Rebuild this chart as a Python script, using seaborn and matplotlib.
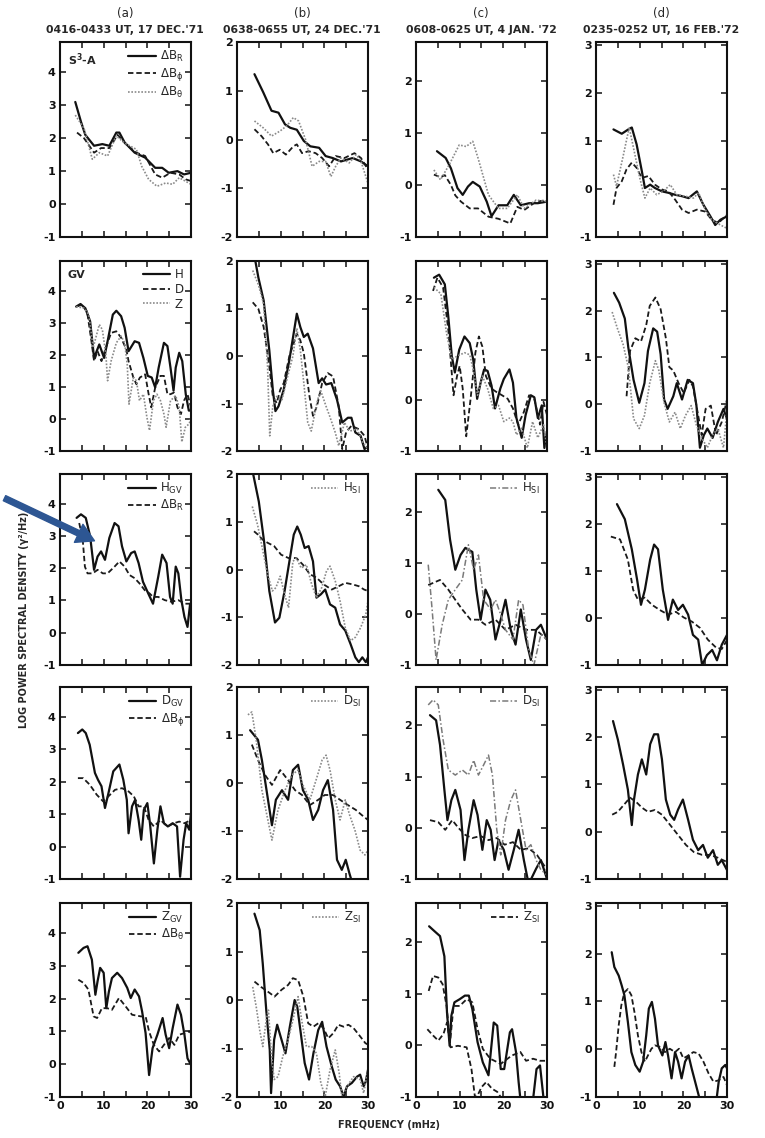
import matplotlib
matplotlib.use("Agg")
import pandas as pd
import matplotlib.pyplot as plt
from matplotlib.lines import Line2D
from matplotlib.patches import FancyArrowPatch
import seaborn as sns

# ---- data: (frequency mHz, log power) ----
# row 1 : S3-A satellite components
A1_R = [(3.5,3.1),(4.8,2.5),(5.8,2.1),(7.8,1.77),(9.7,1.82),(11.3,1.77),(12.9,2.17),(13.6,2.17),(14.8,1.87),(17.1,1.56),(19.5,1.41),(21.8,1.1),(23.4,1.1),(24.9,0.95),(26.9,1.0),(28.4,0.9),(30,0.95)]
A1_P = [(3.9,2.17),(5.5,2.0),(7.8,1.56),(9.4,1.7),(11.3,1.7),(13.2,2.1),(15.2,1.8),(17.5,1.56),(19.5,1.46),(21.8,0.9),(23.4,0.8),(25.3,0.95),(27.3,0.9),(28.8,0.75),(30,0.7)]
A1_T = [(3.5,2.7),(5.5,2.3),(7.4,1.36),(9.0,1.56),(10.9,1.46),(12.9,2.07),(14.8,1.85),(17.5,1.66),(18.7,1.15),(20.3,0.75),(22.2,0.54),(24.2,0.64),(25.8,0.6),(27.3,0.8),(30,0.6)]
B1_R = [(4.0,1.34),(6.0,0.97),(7.9,0.59),(9.5,0.55),(11.0,0.31),(12.2,0.24),(13.7,0.2),(15.3,-0.03),(16.8,-0.14),(18.8,-0.17),(20.3,-0.34),(21.9,-0.38),(23.8,-0.45),(26.5,-0.38),(28.4,-0.45),(30,-0.55)]
B1_P = [(4.0,0.21),(5.6,0.07),(7.1,-0.1),(8.3,-0.28),(9.8,-0.21),(11.2,-0.31),(12.9,-0.14),(13.7,-0.1),(14.9,-0.28),(16.4,-0.24),(18.0,-0.28),(19.5,-0.38),(21.1,-0.55),(22.6,-0.34),(24.6,-0.38),(26.9,-0.28),(28.4,-0.38),(30,-0.62)]
B1_T = [(4.0,0.38),(6.0,0.24),(7.9,0.07),(9.8,0.17),(11.4,0.28),(12.9,0.45),(14.1,0.38),(15.7,0.0),(17.2,-0.55),(18.8,-0.45),(20.3,-0.45),(21.5,-0.76),(22.6,-0.55),(23.8,-0.38),(25.7,-0.48),(27.3,-0.31),(28.4,-0.45),(30,-0.9)]
C1_R = [(4.8,0.65),(6.8,0.52),(8.0,0.32),(9.5,-0.06),(10.7,-0.19),(11.9,-0.03),(13.0,0.06),(14.6,-0.03),(16.2,-0.32),(17.3,-0.6),(18.9,-0.39),(20.9,-0.39),(22.4,-0.19),(24.0,-0.39),(25.9,-0.35),(27.9,-0.35),(30,-0.32)]
C1_P = [(4.1,0.2),(5.6,0.15),(6.6,0.19),(8.0,0.0),(9.0,-0.2),(10.3,-0.32),(12.3,-0.45),(14.2,-0.45),(16.6,-0.61),(18.9,-0.65),(21.6,-0.74),(23.2,-0.42),(24.8,-0.48),(27.5,-0.32),(30,-0.29)]
C1_T = [(4.1,0.29),(5.6,0.1),(7.6,0.39),(9.9,0.77),(11.5,0.74),(13.0,0.84),(14.2,0.52),(16.6,-0.19),(18.9,-0.45),(20.9,-0.45),(23.2,-0.19),(24.8,-0.45),(27.5,-0.29),(30,-0.32)]
D1_R = [(4.0,1.24),(5.9,1.15),(7.4,1.24),(8.2,1.28),(9.3,0.93),(10.5,0.37),(11.2,0.02),(12.4,0.09),(13.5,0.02),(15.1,-0.05),(16.6,-0.08),(18.1,-0.12),(19.7,-0.15),(21.2,-0.19),(23.1,-0.05),(24.6,-0.33),(26.2,-0.57),(27.3,-0.75),(28.5,-0.64),(30,-0.57)]
D1_P = [(4.0,-0.33),(4.7,0.02),(5.9,0.16),(7.0,0.41),(8.2,0.55),(9.3,0.44),(10.5,0.23),(12.0,0.27),(13.5,0.09),(15.1,-0.01),(16.6,-0.05),(18.1,-0.22),(19.7,-0.43),(21.2,-0.5),(23.1,-0.43),(25.0,-0.47),(26.5,-0.64),(28.0,-0.71),(30,-0.54)]
D1_T = [(4.0,0.3),(4.7,0.06),(6.3,0.72),(7.6,1.28),(8.6,0.85),(10.1,0.2),(11.2,-0.19),(12.4,0.02),(13.9,-0.12),(15.4,-0.05),(17.0,0.09),(18.5,-0.12),(20.4,-0.15),(22.3,-0.19),(23.5,-0.08),(25.0,-0.43),(26.5,-0.64),(28.5,-0.75),(30,-0.82)]

# row 2 : ground station H, D, Z
A2_H = [(3.7,3.5),(4.7,3.58),(5.8,3.45),(6.9,3.04),(7.8,1.9),(9.0,2.32),(10.1,1.9),(10.9,2.42),(12.1,3.25),(12.9,3.37),(14.0,3.2),(14.8,2.84),(15.7,2.11),(17.1,2.42),(18.1,2.37),(19.1,1.9),(20.1,1.34),(21.0,1.29),(21.8,0.98),(22.6,1.6),(23.8,2.37),(24.6,2.27),(25.3,1.6),(26.0,0.88),(26.5,1.6),(27.3,2.06),(28.0,1.8),(28.8,0.77),(29.5,0.26),(30,0.26)]
A2_D = [(3.7,3.5),(4.9,3.55),(6.2,3.35),(7.2,2.42),(7.8,1.8),(8.6,2.11),(9.5,1.8),(10.5,2.22),(11.7,2.68),(12.9,2.73),(14.0,2.53),(15.2,2.16),(15.7,1.8),(16.8,1.29),(17.5,1.08),(18.3,1.29),(19.5,1.39),(20.3,0.77),(20.9,0.36),(21.8,0.98),(23.0,1.34),(23.8,1.34),(24.6,0.77),(25.3,0.77),(26.1,0.82),(26.9,0.36),(27.7,0.15),(28.4,0.57),(29.2,0.77),(30,0.36)]
A2_Z = [(3.7,3.5),(5.5,3.45),(6.6,3.25),(7.6,2.22),(8.2,2.53),(9.0,2.94),(9.7,2.78),(10.5,2.01),(10.9,1.19),(11.7,1.8),(12.9,2.37),(14.0,2.58),(14.8,2.37),(15.4,1.7),(15.8,0.46),(16.8,1.29),(17.5,1.19),(18.2,0.57),(19.1,0.77),(19.9,0.05),(20.5,-0.36),(21.4,0.57),(22.2,0.77),(23.0,0.57),(23.8,0.15),(24.3,-0.26),(25.3,0.57),(26.5,0.72),(27.3,0.36),(27.9,-0.72),(28.7,-0.26),(29.6,-0.15),(30,0.05)]
B2_H = [(3.6,2.3),(4.9,1.65),(6.1,1.17),(7.4,0.12),(8.2,-0.71),(8.8,-1.16),(9.5,-1.06),(10.7,-0.71),(12.0,-0.08),(13.7,0.89),(14.5,0.61),(15.3,0.4),(16.2,0.47),(17.4,0.16),(18.7,-0.57),(19.5,-0.47),(20.4,-0.6),(21.6,-0.57),(22.9,-0.92),(24.1,-1.4),(25.4,-1.3),(26.2,-1.3),(27.1,-1.61),(28.3,-1.68),(29.2,-1.96),(30,-1.9)]
B2_D = [(3.6,1.13),(4.9,0.99),(6.1,0.61),(7.4,-0.22),(8.2,-0.85),(9.1,-0.99),(9.9,-0.71),(10.7,-0.57),(12.0,0.0),(13.7,0.47),(14.5,0.33),(15.3,0.06),(16.6,-0.85),(17.4,-1.26),(18.3,-1.06),(19.5,-0.57),(20.8,-0.36),(22.0,-0.43),(23.3,-1.06),(24.1,-1.96),(25.0,-1.6),(26.2,-1.47),(27.9,-1.54),(29.2,-1.68),(30,-1.96)]
B2_Z = [(3.6,1.8),(4.9,1.5),(6.1,1.1),(7.0,-0.22),(7.5,-1.68),(8.2,-1.06),(9.1,-0.85),(10.3,-0.92),(11.6,-0.43),(12.8,0.0),(13.7,0.58),(14.5,0.13),(15.3,-0.57),(16.2,-1.4),(17.0,-1.58),(18.3,-0.99),(19.1,-0.71),(20.4,-1.06),(21.2,-1.26),(22.5,-1.61),(23.3,-1.89),(24.6,-1.4),(25.8,-1.58),(27.5,-1.54),(28.8,-1.82),(30,-1.96)]
C2_H = [(4.1,2.42),(5.3,2.48),(6.6,2.29),(7.4,1.65),(8.2,0.87),(8.9,0.55),(9.9,1.0),(11.1,1.26),(12.3,1.13),(13.1,0.81),(14.0,0.03),(14.8,0.35),(15.6,0.61),(16.4,0.58),(17.3,0.29),(18.1,-0.16),(19.3,0.23),(20.1,0.42),(21.4,0.61),(22.2,0.35),(23.0,-0.35),(24.2,-0.74),(25.1,-0.29),(26.3,0.1),(27.1,0.06),(27.9,-0.35),(28.8,-0.1),(29.4,-0.94),(30,-0.61)]
C2_D = [(3.9,2.16),(4.9,2.42),(6.2,2.23),(7.4,1.39),(8.6,0.1),(9.4,0.48),(10.0,0.68),(10.7,0.23),(11.5,-0.71),(12.5,0.03),(13.6,0.94),(14.4,1.26),(15.2,1.06),(16.0,0.48),(17.3,0.23),(18.5,0.16),(19.7,0.1),(21.0,0.03),(22.2,-0.16),(23.4,-0.48),(24.7,-0.23),(25.9,0.1),(27.1,0.03),(28.4,-0.48),(29.2,-0.03),(30,-0.29)]
C2_Z = [(4.1,2.23),(5.7,2.1),(7.0,1.32),(8.2,0.81),(9.4,0.87),(11.1,0.94),(12.3,0.9),(13.1,0.61),(14.1,0.1),(15.2,0.48),(16.4,0.23),(17.7,-0.16),(18.9,-0.1),(20.1,-0.42),(21.4,-0.35),(22.2,-0.42),(23.0,-0.68),(24.2,-0.55),(25.5,-0.94),(26.7,-0.42),(27.9,-0.74),(29.2,-0.48),(30,-0.94)]
D2_H = [(4.1,2.38),(5.3,2.17),(6.6,1.83),(7.4,1.21),(8.6,0.52),(9.9,0.03),(11.1,0.45),(11.9,1.14),(13.1,1.62),(14.0,1.55),(14.8,1.07),(15.6,0.1),(16.4,-0.1),(17.7,0.17),(18.5,0.45),(19.7,0.1),(21.0,0.52),(22.2,0.45),(23.0,-0.03),(23.8,-0.93),(24.7,-0.66),(25.5,-0.52),(26.7,-0.72),(27.9,-0.38),(29.2,-0.1),(30,-0.31)]
D2_D = [(7.0,0.17),(7.8,1.14),(9.0,1.41),(10.3,1.34),(11.5,1.69),(12.3,2.1),(13.6,2.28),(14.8,2.03),(16.0,1.41),(16.8,0.79),(17.7,0.72),(18.9,0.45),(20.1,0.24),(21.4,0.52),(22.2,0.38),(23.0,-0.03),(24.2,-0.66),(25.1,-0.1),(26.3,-0.03),(27.5,-0.66),(28.8,-0.38),(30,0.1)]
D2_Z = [(3.7,1.97),(4.9,1.62),(6.2,1.28),(7.4,0.79),(8.6,-0.31),(9.9,-0.52),(11.1,-0.24),(12.3,0.45),(13.6,0.93),(14.4,0.72),(15.6,0.03),(16.8,-0.38),(18.1,-0.17),(19.3,-0.52),(20.5,-0.24),(21.8,-0.03),(23.0,-0.45),(24.2,-0.72),(25.5,-0.93),(26.7,-0.66),(27.9,-0.52),(29.2,-0.93),(30,-0.1)]

# row 3 : H
A3_H = [(3.8,3.56),(4.8,3.67),(5.9,3.56),(6.9,2.99),(7.8,1.95),(8.6,2.36),(9.4,2.52),(10.3,2.26),(11.3,2.94),(12.5,3.4),(13.4,3.3),(14.2,2.68),(15.2,2.21),(16.3,2.47),(17.1,2.52),(18.0,2.16),(19.0,1.58),(20.2,1.22),(21.3,0.9),(22.5,1.74),(23.4,2.42),(24.4,2.16),(25.2,1.11),(25.8,0.9),(26.5,2.05),(27.1,1.84),(27.8,1.01),(28.5,0.49),(29.2,0.18),(29.8,0.9)]
A3_R = [(4.4,3.4),(5.2,2.89),(5.7,2.05),(6.3,1.84),(7.5,1.84),(8.6,1.95),(9.8,1.84),(10.9,1.84),(12.5,2.05),(13.6,2.21),(14.8,2.05),(15.9,1.79),(17.1,1.69),(18.2,1.53),(19.4,1.32),(20.5,1.22),(21.3,1.11),(22.5,1.11),(24.0,1.01),(25.5,0.96),(27.1,1.01),(28.6,0.9),(30,0.9)]
B3_H = [(3.7,2.0),(5.0,1.42),(6.2,0.59),(7.4,-0.45),(8.7,-1.11),(9.7,-1.01),(10.9,-0.45),(12.0,0.17),(13.0,0.73),(13.8,0.9),(14.6,0.73),(15.5,0.45),(16.4,0.49),(17.4,0.17),(18.2,-0.59),(19.2,-0.52),(20.2,-0.42),(21.3,-0.73),(22.5,-0.8),(23.6,-1.15),(24.8,-1.28),(26.0,-1.56),(27.1,-1.84),(27.9,-1.94),(28.7,-1.84),(29.5,-1.94),(30,-1.84)]
B3_SI = [(3.5,1.32),(4.7,0.94),(5.8,0.45),(7.0,-0.1),(8.1,-0.45),(8.9,-0.38),(9.9,-0.14),(10.9,-0.52),(11.8,-0.8),(12.8,0.17),(13.6,0.24),(14.7,0.03),(15.9,0.1),(17.1,-0.31),(18.2,-0.59),(19.4,-0.38),(20.5,-0.03),(21.3,0.07),(22.5,-0.24),(23.6,-0.66),(24.8,-1.22),(26.0,-1.49),(27.1,-1.42),(28.3,-1.22),(29.5,-0.94),(30,-0.66)]
B3_R = [(3.9,0.8),(4.8,0.73),(5.8,0.63),(7.0,0.56),(8.5,0.49),(10.1,0.31),(11.8,0.24),(13.6,0.24),(15.1,0.1),(16.7,-0.1),(18.2,-0.17),(19.8,-0.31),(21.7,-0.42),(23.3,-0.35),(24.8,-0.28),(26.4,-0.31),(27.9,-0.35),(29.1,-0.42),(30,-0.45)]
C3_H = [(5.1,2.44),(6.7,2.24),(7.8,1.46),(9.0,0.87),(10.2,1.16),(11.3,1.3),(12.9,1.22),(13.8,0.48),(14.8,-0.11),(15.9,0.48),(17.0,0.28),(18.2,-0.5),(19.4,-0.11),(20.5,0.28),(21.7,-0.31),(22.8,-0.6),(24.0,0.09),(25.2,-0.5),(26.3,-0.9),(27.5,-0.31),(28.6,-0.21),(30,-0.5)]
C3_SI = [(2.8,0.97),(3.7,0.08),(4.6,-0.9),(6.0,-0.21),(7.4,0.28),(9.0,0.48),(10.6,0.67),(12.0,1.36),(13.2,0.87),(14.3,1.16),(15.5,0.28),(17.1,0.09),(18.2,0.28),(19.4,-0.01),(20.5,-0.31),(22.2,-0.5),(23.5,0.28),(24.5,0.18),(25.8,-0.7),(27.0,-1.0),(28.6,-0.4),(30,-0.5)]
C3_R = [(2.8,0.57),(5.5,0.67),(7.4,0.48),(9.0,0.28),(10.6,0.09),(12.5,-0.11),(14.3,-0.11),(15.9,-0.21),(18.2,-0.11),(20.5,-0.31),(22.8,-0.21),(25.2,-0.31),(27.5,-0.31),(30,-0.5)]
D3_H = [(4.8,2.42),(6.6,2.1),(8.2,1.46),(9.4,0.82),(10.3,0.28),(11.2,0.6),(12.4,1.24),(13.3,1.56),(14.2,1.46),(15.3,0.6),(16.5,-0.04),(17.6,0.39),(18.8,0.17),(19.9,0.28),(21.1,0.07),(22.2,-0.36),(23.4,-0.46),(24.3,-1.0),(25.4,-0.79),(26.6,-0.68),(27.7,-0.9),(28.8,-0.57),(30,-0.36)]
D3_R = [(3.4,1.73),(5.5,1.67),(7.3,1.24),(8.5,0.6),(9.6,0.39),(11.2,0.43),(12.8,0.28),(14.6,0.17),(16.5,0.07),(18.3,0.13),(20.1,0.01),(22.0,-0.08),(23.8,-0.21),(25.6,-0.46),(27.5,-0.63),(28.8,-0.66),(30,-0.47)]

# row 4 : D
A4_D = [(4.1,3.5),(5.1,3.61),(5.9,3.5),(6.8,3.14),(8.0,2.27),(8.7,2.06),(9.5,1.86),(10.3,1.19),(11.1,1.65),(12.2,2.32),(13.6,2.53),(14.5,2.06),(15.3,1.44),(15.7,0.41),(16.5,1.24),(17.2,1.44),(18.0,0.82),(18.6,0.21),(19.2,1.13),(20.0,1.34),(20.6,0.72),(21.5,-0.52),(22.3,0.52),(23.0,1.24),(23.8,0.72),(24.7,0.62),(25.8,0.72),(26.8,0.62),(27.5,-0.93),(28.3,0.21),(28.9,0.72),(29.6,0.52),(30,1.03)]
A4_P = [(4.1,2.11),(5.3,2.11),(6.8,1.91),(8.4,1.6),(9.9,1.39),(11.1,1.55),(12.6,1.75),(14.2,1.8),(15.7,1.7),(16.9,1.55),(18.0,1.24),(19.2,1.24),(20.3,0.82),(21.5,0.62),(23.0,0.82),(24.6,0.62),(26.1,0.72),(27.3,0.77),(28.5,0.72),(30,0.82)]
B4_D = [(3.0,1.1),(4.8,0.9),(5.7,0.48),(7.1,-0.35),(8.0,-0.88),(8.9,-0.35),(10.3,-0.15),(11.7,-0.35),(12.8,0.27),(14.0,0.38),(15.1,-0.15),(16.3,-0.35),(17.4,-0.77),(18.6,-0.56),(19.7,-0.15),(20.8,0.06),(22.0,-0.56),(22.9,-1.6),(24.0,-1.81),(24.9,-1.6),(25.8,-1.9),(26.8,-2.2)]
B4_SI = [(2.5,1.42),(3.4,1.48),(4.4,0.9),(5.7,-0.15),(6.6,-0.56),(8.0,-1.19),(9.4,-0.56),(11.0,-0.15),(12.6,0.17),(14.0,0.27),(15.1,-0.04),(16.7,-0.35),(18.1,0.06),(19.5,0.48),(20.4,0.58),(21.3,0.27),(22.5,-0.35),(23.6,-0.77),(24.8,-0.35),(25.8,-0.67),(27.0,-0.98),(28.2,-1.4),(29.3,-1.5),(30,-1.4)]
B4_P = [(3.4,0.8),(4.8,0.48),(6.4,0.17),(8.0,-0.04),(9.9,0.27),(11.7,0.06),(13.3,-0.15),(14.9,-0.25),(16.7,-0.46),(18.6,-0.35),(20.1,-0.25),(22.0,-0.25),(23.6,-0.35),(25.4,-0.46),(27.2,-0.56),(28.6,-0.67),(30,-0.77)]
C4_SI = [(2.8,2.4),(3.9,2.5),(5.1,2.4),(6.2,1.72),(7.4,1.13),(9.0,1.03),(10.6,1.13),(12.0,1.03),(13.2,1.32),(14.3,1.03),(15.5,1.23),(16.6,1.42),(17.5,1.03),(18.5,-0.04),(19.4,-0.53),(20.5,0.15),(21.7,0.54),(22.8,0.74),(24.0,0.15),(25.2,-0.43),(26.3,-0.33),(27.5,-0.63),(28.6,-0.82),(30,-0.92)]
C4_D = [(3.2,2.2),(4.6,2.1),(5.5,1.62),(6.5,0.74),(7.2,0.15),(8.1,0.54),(9.0,0.74),(10.2,0.35),(11.1,-0.63),(12.0,-0.04),(13.2,0.54),(14.1,0.25),(15.2,-0.43),(16.2,0.15),(17.1,-0.04),(18.0,-0.63),(18.9,-0.24),(20.1,-0.43),(21.2,-0.82),(22.4,-0.43),(23.5,-0.04),(24.7,-0.63),(25.8,-1.1),(27.5,-0.8),(28.6,-0.63),(30,-1.0)]
C4_P = [(3.2,0.15),(5.1,0.11),(6.7,-0.04),(8.3,0.15),(9.7,0.0),(11.3,-0.14),(12.9,-0.2),(14.8,-0.16),(16.6,-0.24),(18.5,-0.2),(20.3,-0.33),(22.2,-0.28),(24.0,-0.43),(25.8,-0.4),(27.7,-0.53),(30,-0.82)]
D4_D = [(3.9,2.34),(5.0,1.95),(6.2,1.42),(7.3,0.89),(8.2,0.14),(8.7,0.68),(9.6,1.21),(10.5,1.53),(11.5,1.21),(12.4,1.85),(13.3,2.06),(14.2,2.06),(15.1,1.53),(16.0,0.68),(17.0,0.36),(17.9,0.25),(18.8,0.47),(19.9,0.68),(21.1,0.25),(22.2,-0.17),(23.4,-0.39),(24.5,-0.28),(25.6,-0.55),(26.8,-0.39),(27.9,-0.7),(28.8,-0.6),(30,-0.81)]
D4_P = [(3.7,0.36),(5.0,0.42),(6.4,0.57),(7.8,0.72),(9.2,0.63),(10.5,0.51),(11.9,0.42),(13.5,0.46),(15.1,0.36),(17.0,0.14),(18.8,-0.07),(20.6,-0.28),(22.4,-0.43),(24.3,-0.49),(26.1,-0.49),(27.9,-0.55),(30,-0.64)]

# row 5 : Z
A5_Z = [(4.2,3.4),(5.4,3.55),(6.3,3.6),(7.3,3.19),(8.1,2.12),(8.6,2.53),(9.2,2.94),(10.0,2.79),(10.6,1.71),(11.2,2.22),(11.9,2.63),(13.1,2.79),(14.2,2.63),(15.4,2.33),(16.2,2.02),(17.1,2.28),(18.1,2.07),(18.8,1.61),(19.6,0.95),(20.4,-0.33),(21.2,0.49),(22.3,0.9),(23.5,1.41),(24.2,0.9),(25.0,0.49),(25.8,1.1),(26.9,1.82),(27.7,1.51),(28.5,0.9),(29.2,0.18),(30,-0.02)]
A5_T = [(4.2,2.58),(5.4,2.48),(6.5,2.28),(7.7,1.46),(8.5,1.41),(9.6,1.71),(10.8,1.71),(11.9,1.66),(13.5,2.02),(15.0,1.77),(16.5,1.51),(18.5,1.46),(19.6,1.46),(20.4,1.0),(21.5,0.59),(22.7,0.39),(23.8,0.59),(25.0,0.8),(26.2,0.59),(27.3,0.9),(28.5,0.95),(29.6,1.0),(30,0.95)]
B5_Z = [(4.0,1.78),(5.2,1.44),(5.9,0.75),(6.7,-0.21),(7.5,-1.03),(7.8,-1.92),(8.5,-0.82),(9.2,-0.51),(10.2,-0.82),(11.1,-1.1),(12.1,-0.55),(13.2,0.0),(13.8,-0.14),(14.6,-0.68),(15.5,-1.3),(16.5,-1.64),(17.5,-1.1),(18.6,-0.62),(19.5,-0.45),(20.5,-0.96),(21.7,-1.37),(22.6,-1.64),(23.6,-1.78),(24.4,-1.99),(25.2,-1.78),(26.3,-1.71),(27.5,-1.58),(28.2,-1.54),(29.0,-1.78),(29.5,-1.68),(30,-1.44)]
B5_SI = [(3.6,0.27),(4.4,-0.14),(5.2,-0.62),(5.9,-0.96),(6.7,-0.41),(7.2,-0.21),(7.8,-1.03),(8.5,-1.64),(9.4,-1.58),(10.5,-1.16),(11.7,-0.82),(12.8,-0.41),(14.0,0.07),(14.8,-0.41),(15.9,-0.96),(17.1,-0.96),(18.2,-1.1),(19.2,-1.71),(20.2,-1.99),(21.3,-1.44),(22.5,-1.03),(23.4,-1.51),(24.0,-1.99),(25.2,-1.78),(26.7,-1.58),(28.2,-1.64),(29.0,-1.92),(30,-1.44)]
B5_T = [(4.0,0.38),(5.5,0.27),(7.1,0.17),(8.6,0.07),(10.2,0.21),(11.7,0.31),(12.8,0.45),(14.0,0.41),(15.2,0.07),(16.3,-0.48),(17.5,-0.55),(18.6,-0.48),(19.8,-0.58),(20.9,-0.79),(22.1,-0.68),(23.2,-0.51),(24.4,-0.55),(25.5,-0.51),(26.7,-0.58),(28.2,-0.75),(29.4,-0.89),(30,-0.92)]
C5_Z = [(3.0,2.3),(4.3,2.2),(5.5,2.11),(6.5,1.72),(7.1,0.63),(7.7,-0.01),(8.1,0.57),(8.8,0.83),(10.0,0.89),(11.2,0.96),(12.1,0.96),(12.9,0.7),(14.1,0.06),(15.3,-0.33),(16.6,-0.58),(17.8,0.44),(18.6,0.38),(19.4,-0.46),(20.2,-0.46),(21.5,0.25),(22.0,0.31),(22.9,-0.13),(23.5,-0.71),(24.1,-1.2),(26.6,-1.2),(27.6,-0.46),(28.4,-0.39),(29.3,-1.1)]
C5_T = [(2.9,1.05),(3.9,1.34),(5.1,1.31),(6.1,1.18),(7.0,0.76),(7.8,0.06),(8.6,0.76),(10.0,0.76),(11.6,0.89),(12.9,0.83),(14.1,0.31),(15.3,-0.07),(17.0,-0.26),(19.4,-0.36),(21.9,-0.2),(23.9,-0.13),(25.2,-0.3),(26.8,-0.26),(28.4,-0.3),(30,-0.3)]
C5_SI = [(2.6,0.31),(3.9,0.19),(5.1,0.09),(6.3,0.22),(7.1,0.44),(7.9,-0.04),(9.6,-0.01),(11.6,-0.04),(12.7,-0.46),(13.5,-1.0),(14.1,-0.97),(15.0,-0.81),(16.1,-0.71),(17.4,-0.84),(18.6,-0.9),(19.8,-1.05)]
D5_Z = [(3.6,2.03),(4.2,1.72),(5.2,1.54),(5.9,1.33),(6.5,1.13),(7.3,0.57),(8.1,-0.06),(9.0,-0.33),(10.0,-0.47),(10.8,-0.26),(11.5,0.29),(12.1,0.85),(12.8,0.99),(13.5,0.64),(14.2,0.08),(15.2,-0.13),(15.9,0.15),(16.5,-0.13),(17.3,-0.61),(18.1,-0.06),(18.8,-0.26),(19.6,-0.61),(20.4,-0.26),(21.2,-0.13),(21.9,-0.4),(22.7,-0.68),(23.5,-0.96),(24.2,-1.2),(27.4,-1.2),(28.1,-0.68),(28.8,-0.4),(29.6,-0.33),(30,-0.4)]
D5_T = [(4.2,-0.37),(4.6,-0.06),(5.2,0.5),(5.8,0.92),(6.5,1.19),(7.3,1.26),(8.1,1.13),(8.8,0.78),(9.6,0.29),(10.4,-0.06),(11.2,-0.26),(11.9,-0.13),(12.7,0.01),(13.5,0.08),(14.6,0.05),(15.8,-0.06),(16.9,0.01),(18.1,-0.06),(19.0,0.01),(20.0,-0.19),(21.2,-0.13),(22.3,-0.06),(23.5,-0.09),(24.6,-0.26),(25.8,-0.51),(26.9,-0.68),(28.1,-0.65),(29.2,-0.58),(30,-0.75)]

COL_TITLES = ["(a)", "(b)", "(c)", "(d)"]
COL_DATES = ["0416-0433 UT, 17 DEC.'71", "0638-0655 UT, 24 DEC.'71",
             "0608-0625 UT, 4 JAN. '72", "0235-0252 UT, 16 FEB.'72"]
COL_YLIM = [(-1, 4.92), (-2, 2), (-1, 2.75), (-1, 3.06)]
COL_YTICKS = [[-1, 0, 1, 2, 3, 4], [-2, -1, 0, 1, 2], [-1, 0, 1, 2], [-1, 0, 1, 2, 3]]
X_TICKS = [0, 10, 20, 30]

dR, dP, dT = r"$\mathregular{\Delta B_R}$", r"$\mathregular{\Delta B_\phi}$", r"$\mathregular{\Delta B_\theta}$"

CURVES = {
    (0, 0): [(A1_R, "solid"), (A1_P, "dash"), (A1_T, "dot")],
    (0, 1): [(B1_R, "solid"), (B1_P, "dash"), (B1_T, "dot")],
    (0, 2): [(C1_R, "solid"), (C1_P, "dash"), (C1_T, "dot")],
    (0, 3): [(D1_R, "solid"), (D1_P, "dash"), (D1_T, "dot")],
    (1, 0): [(A2_H, "solid"), (A2_D, "dash"), (A2_Z, "dot")],
    (1, 1): [(B2_H, "solid"), (B2_D, "dash"), (B2_Z, "dot")],
    (1, 2): [(C2_H, "solid"), (C2_D, "dash"), (C2_Z, "dot")],
    (1, 3): [(D2_H, "solid"), (D2_D, "dash"), (D2_Z, "dot")],
    (2, 0): [(A3_H, "solid"), (A3_R, "dash")],
    (2, 1): [(B3_H, "solid"), (B3_R, "dash"), (B3_SI, "dot")],
    (2, 2): [(C3_H, "solid"), (C3_R, "dash"), (C3_SI, "dashdot")],
    (2, 3): [(D3_H, "solid"), (D3_R, "dash")],
    (3, 0): [(A4_D, "solid"), (A4_P, "dash")],
    (3, 1): [(B4_D, "solid"), (B4_P, "dash"), (B4_SI, "dot")],
    (3, 2): [(C4_D, "solid"), (C4_P, "dash"), (C4_SI, "dashdot")],
    (3, 3): [(D4_D, "solid"), (D4_P, "dash")],
    (4, 0): [(A5_Z, "solid"), (A5_T, "dash")],
    (4, 1): [(B5_Z, "solid"), (B5_T, "dash"), (B5_SI, "dot")],
    (4, 2): [(C5_Z, "solid"), (C5_T, "dash"), (C5_SI, "dash")],
    (4, 3): [(D5_Z, "solid"), (D5_T, "dash")],
}
LEGENDS = {
    (0, 0): [("solid", dR), ("dash", dP), ("dot", dT)],
    (1, 0): [("solid", "H"), ("dash", "D"), ("dot", "Z")],
    (2, 0): [("solid", r"$\mathregular{H_{GV}}$"), ("dash", dR)],
    (3, 0): [("solid", r"$\mathregular{D_{GV}}$"), ("dash", dP)],
    (4, 0): [("solid", r"$\mathregular{Z_{GV}}$"), ("dash", dT)],
    (2, 1): [("dot", r"$\mathregular{H_{SI}}$")],
    (2, 2): [("dashdot", r"$\mathregular{H_{SI}}$")],
    (3, 1): [("dot", r"$\mathregular{D_{SI}}$")],
    (3, 2): [("dashdot", r"$\mathregular{D_{SI}}$")],
    (4, 1): [("dot", r"$\mathregular{Z_{SI}}$")],
    (4, 2): [("dash", r"$\mathregular{Z_{SI}}$")],
}
CORNER_TEXT = {(0, 0): r"S$^\mathregular{3}$-A", (1, 0): "GV"}

STYLE = {
    "solid": dict(color="#111111", linewidth=1.6, linestyle="-"),
    "dash": dict(color="#1a1a1a", linewidth=1.3, linestyle=(0, (3, 1.6))),
    "dot": dict(color="#8a8a8a", linewidth=1.2, linestyle=(0, (1, 1))),
    "dashdot": dict(color="#7a7a7a", linewidth=1.1, linestyle=(0, (4, 1.5, 1, 1.5))),
}

sns.set_theme(style="ticks")
plt.rcParams["font.family"] = ["DejaVu Sans"]
plt.rcParams["mathtext.fontset"] = "dejavusans"
plt.rcParams["axes.unicode_minus"] = False

W, H = 765, 1138
fig = plt.figure(figsize=(W / 100, H / 100), dpi=100)
col_left = [60, 237, 416, 596]
col_w = 131
row_top = [42, 261, 474, 687, 903]
row_bot = [237, 451, 665, 879, 1097]

for r in range(5):
    for c in range(4):
        ax = fig.add_axes([col_left[c] / W, 1 - row_bot[r] / H, col_w / W, (row_bot[r] - row_top[r]) / H])
        for pts, kind in CURVES[(r, c)]:
            df = pd.DataFrame(pts, columns=["freq", "power"])
            sns.lineplot(data=df, x="freq", y="power", ax=ax, estimator=None, sort=False, **STYLE[kind])
        ax.set_xlim(0, 30)
        ax.set_ylim(*COL_YLIM[c])
        ax.set_xticks(X_TICKS)
        ax.set_xticks([5, 15, 25], minor=True)
        ax.set_yticks(COL_YTICKS[c])
        ax.set_xlabel("")
        ax.set_ylabel("")
        ax.tick_params(which="both", direction="in", top=True, right=True, length=4, width=1.1,
                       labelsize=8, pad=3, colors="#111111")
        for lab in ax.get_yticklabels() + ax.get_xticklabels():
            lab.set_fontweight("bold")
        if r < 4:
            ax.set_xticklabels([])
        for s in ax.spines.values():
            s.set_linewidth(1.5)
            s.set_color("#111111")
        if (r, c) in LEGENDS:
            handles = [Line2D([], [], **STYLE[k]) for k, _ in LEGENDS[(r, c)]]
            labels = [t for _, t in LEGENDS[(r, c)]]
            ax.legend(handles, labels, loc="upper right", frameon=False, fontsize=8.5,
                      handlelength=2.3, handletextpad=0.4, labelspacing=0.15, borderaxespad=0.2)
        if (r, c) in CORNER_TEXT:
            ax.text(0.06, 0.95, CORNER_TEXT[(r, c)], transform=ax.transAxes, ha="left", va="top",
                    fontsize=8, fontweight="bold")

col_center = [125, 302, 481, 661]
for c in range(4):
    fig.text(col_center[c] / W, 1 - 13 / H, COL_TITLES[c], ha="center", va="center", fontsize=8.5)
    fig.text(col_center[c] / W, 1 - 30 / H, COL_DATES[c], ha="center", va="center", fontsize=7.8,
             fontweight="bold")

fig.text(24 / W, 1 - 620 / H, "LOG POWER SPECTRAL DENSITY (γ²/Hz)", rotation=90, ha="center",
         va="center", fontsize=7, fontweight="bold")
fig.text(389 / W, 1 - 1125 / H, "FREQUENCY (mHz)", ha="center", va="center", fontsize=7,
         fontweight="bold")

arrow = FancyArrowPatch((2 / W, 1 - 497 / H), (97 / W, 1 - 542 / H), transform=fig.transFigure,
                        arrowstyle="simple,head_width=1.6,head_length=1.4,tail_width=0.45",
                        mutation_scale=9, color="#2d5693")
fig.add_artist(arrow)

fig.savefig("out.png", dpi=100)
